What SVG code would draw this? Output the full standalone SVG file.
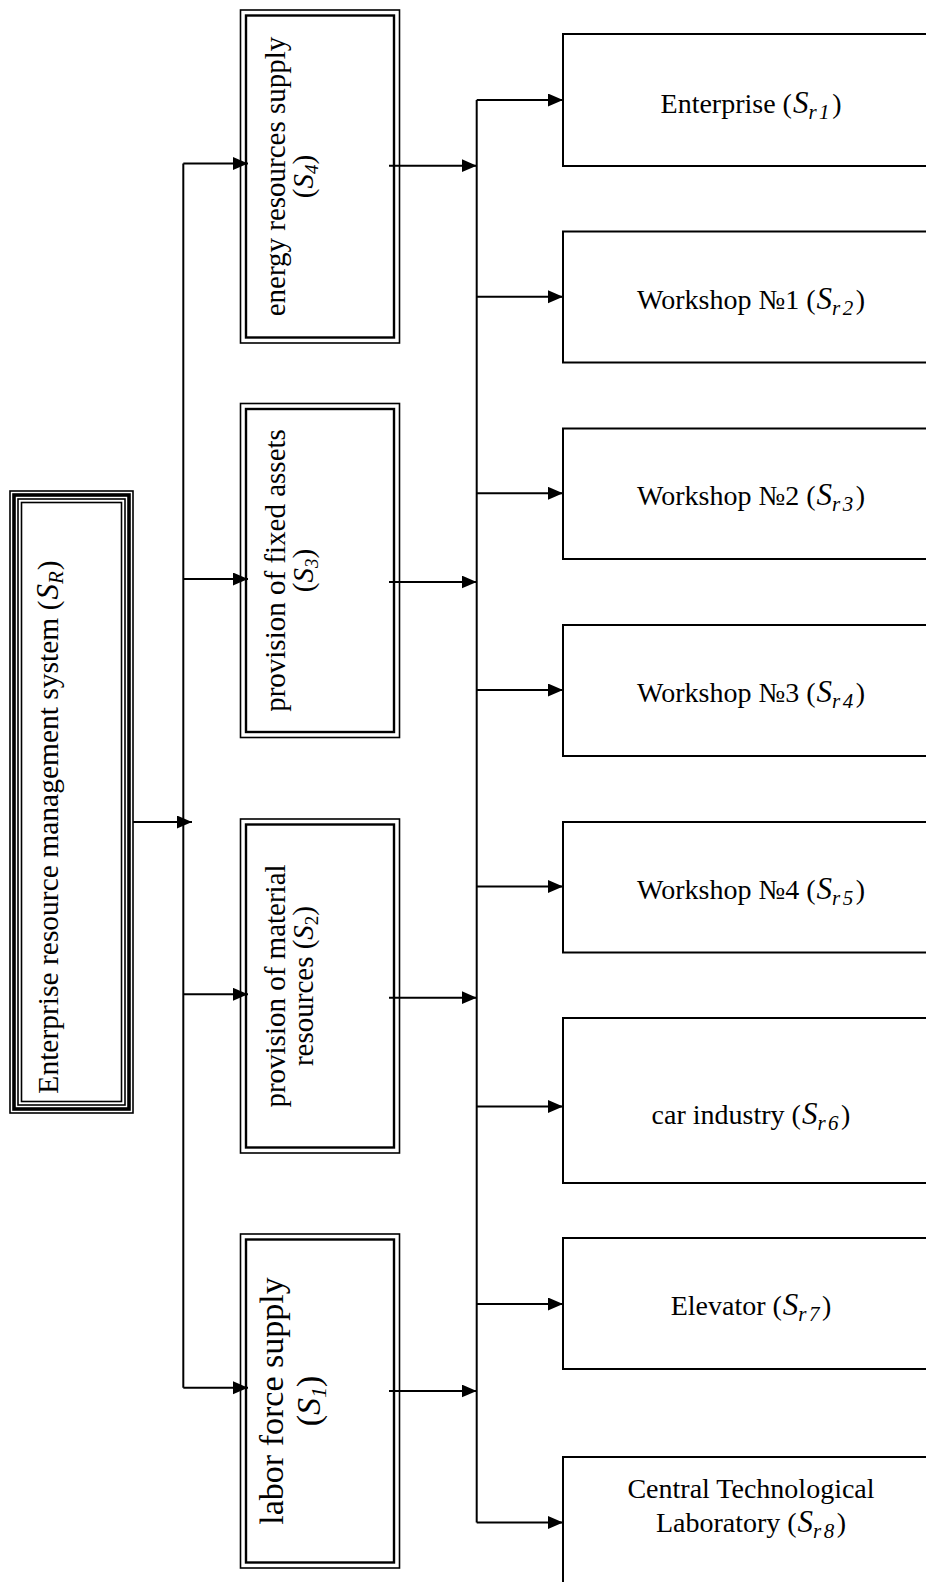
<svg xmlns="http://www.w3.org/2000/svg" width="926" height="1582" viewBox="0 0 926 1582">
<defs>
<marker id="arr" markerUnits="userSpaceOnUse" markerWidth="16" markerHeight="14" refX="15" refY="6.5" orient="auto">
<path d="M0,0 L15,6.5 L0,13 z" fill="#000"/>
</marker>
<style>
.t{font-family:"Liberation Serif","Times New Roman",serif;fill:#000;}
.i{font-style:italic;}
.S{font-style:italic;font-size:31px;}
.sub{font-style:italic;font-size:21px;letter-spacing:2.5px;}
.box{fill:#fff;stroke:#000;stroke-width:2;}
.thin{fill:none;stroke:#000;stroke-width:1.6;}
.mid{fill:none;stroke:#000;stroke-width:2.4;}
.thick{fill:none;stroke:#000;stroke-width:3.6;}
.ln{fill:none;stroke:#000;stroke-width:2;}
.a{fill:none;stroke:#000;stroke-width:2;marker-end:url(#arr);}
</style>
</defs>
<rect width="926" height="1582" fill="#fff"/>

<g id="main">
<rect class="thin" x="10" y="491" width="123" height="622"/>
<rect class="thick" x="14" y="495" width="115" height="614"/>
<rect class="thin" x="18" y="499" width="107" height="606"/>
<rect class="thin" x="21.5" y="502.5" width="100" height="599"/>
<text class="t" font-size="29.5" text-anchor="middle" transform="translate(58,827) rotate(-90)">Enterprise resource management system (<tspan dx="1" class="i" font-size="31">S</tspan><tspan class="i" font-size="21" dy="5">R</tspan><tspan dx="1" dy="-5">)</tspan></text>
</g>

<g id="s4">
<rect class="thin" x="240.5" y="10" width="159" height="333"/>
<rect class="mid" x="246" y="15.5" width="148" height="322"/>
<text class="t" font-size="29" text-anchor="middle" transform="translate(285,176.5) rotate(-90)"><tspan x="0" y="0">energy resources supply</tspan><tspan x="0" y="28">(<tspan class="i">S</tspan><tspan class="i" font-size="19" dy="5">4</tspan><tspan dy="-5">)</tspan></tspan></text>
</g>

<g id="s3">
<rect class="thin" x="240.5" y="403.5" width="159" height="334"/>
<rect class="mid" x="246" y="409" width="148" height="323"/>
<text class="t" font-size="29" text-anchor="middle" transform="translate(285,570.5) rotate(-90)"><tspan x="0" y="0">provision of fixed assets</tspan><tspan x="0" y="28">(<tspan class="i">S</tspan><tspan class="i" font-size="19" dy="5">3</tspan><tspan dy="-5">)</tspan></tspan></text>
</g>

<g id="s2">
<rect class="thin" x="240.5" y="819" width="159" height="334"/>
<rect class="mid" x="246" y="824.5" width="148" height="323"/>
<text class="t" font-size="29" text-anchor="middle" transform="translate(285,986) rotate(-90)"><tspan x="0" y="0">provision of material</tspan><tspan x="0" y="28">resources (<tspan class="i">S</tspan><tspan font-size="19" dy="5">2</tspan><tspan dy="-5">)</tspan></tspan></text>
</g>

<g id="s1">
<rect class="thin" x="240.5" y="1234" width="159" height="334"/>
<rect class="mid" x="246" y="1239.5" width="148" height="323"/>
<text class="t" font-size="34" text-anchor="middle" transform="translate(283,1401) rotate(-90)"><tspan x="0" y="0">labor force supply</tspan><tspan x="0" y="37">(<tspan class="i">S</tspan><tspan class="i" font-size="22" dy="6">1</tspan><tspan dy="-6">)</tspan></tspan></text>
</g>

<g id="sr1">
<rect class="box" x="563" y="34" width="380" height="132"/>
<text class="t" font-size="28" text-anchor="middle" x="751" y="113">Enterprise (<tspan dx="1" class="S">S</tspan><tspan class="sub" dy="6">r1</tspan><tspan dy="-6">)</tspan></text>
</g>
<g id="sr2">
<rect class="box" x="563" y="231.5" width="380" height="131"/>
<text class="t" font-size="28" text-anchor="middle" x="751" y="309">Workshop №1 (<tspan dx="1" class="S">S</tspan><tspan class="sub" dy="6">r2</tspan><tspan dy="-6">)</tspan></text>
</g>
<g id="sr3">
<rect class="box" x="563" y="428.5" width="380" height="130.5"/>
<text class="t" font-size="28" text-anchor="middle" x="751" y="505">Workshop №2 (<tspan dx="1" class="S">S</tspan><tspan class="sub" dy="6">r3</tspan><tspan dy="-6">)</tspan></text>
</g>
<g id="sr4">
<rect class="box" x="563" y="625" width="380" height="131"/>
<text class="t" font-size="28" text-anchor="middle" x="751" y="702">Workshop №3 (<tspan dx="1" class="S">S</tspan><tspan class="sub" dy="6">r4</tspan><tspan dy="-6">)</tspan></text>
</g>
<g id="sr5">
<rect class="box" x="563" y="822" width="380" height="130.5"/>
<text class="t" font-size="28" text-anchor="middle" x="751" y="899">Workshop №4 (<tspan dx="1" class="S">S</tspan><tspan class="sub" dy="6">r5</tspan><tspan dy="-6">)</tspan></text>
</g>
<g id="sr6">
<rect class="box" x="563" y="1018" width="380" height="165"/>
<text class="t" font-size="28" text-anchor="middle" x="751" y="1124">car industry (<tspan dx="1" class="S">S</tspan><tspan class="sub" dy="6">r6</tspan><tspan dy="-6">)</tspan></text>
</g>
<g id="sr7">
<rect class="box" x="563" y="1238" width="380" height="131"/>
<text class="t" font-size="28" text-anchor="middle" x="751" y="1315">Elevator (<tspan dx="1" class="S">S</tspan><tspan class="sub" dy="6">r7</tspan><tspan dy="-6">)</tspan></text>
</g>
<g id="sr8">
<rect class="box" x="563" y="1457" width="380" height="140"/>
<text class="t" font-size="28" text-anchor="middle" x="751" y="1498">Central Technological</text>
<text class="t" font-size="28" text-anchor="middle" x="751" y="1532">Laboratory (<tspan dx="1" class="S">S</tspan><tspan class="sub" dy="6">r8</tspan><tspan dy="-6">)</tspan></text>
</g>

<g id="connectors">
<path class="a" d="M133,822 H192"/>
<path class="ln" d="M183.3,163.5 V1387.7"/>
<path class="a" d="M183.3,163.5 H248"/>
<path class="a" d="M183.3,579 H248"/>
<path class="a" d="M183.3,994.3 H248"/>
<path class="a" d="M183.3,1387.7 H248"/>
<path class="a" d="M389,165.7 H476.7"/>
<path class="a" d="M389,582 H476.7"/>
<path class="a" d="M389,997.7 H476.7"/>
<path class="a" d="M389,1391 H476.7"/>
<path class="ln" d="M476.7,100 V1522.5"/>
<path class="a" d="M476.7,100 H563"/>
<path class="a" d="M476.7,296.7 H563"/>
<path class="a" d="M476.7,493.3 H563"/>
<path class="a" d="M476.7,690 H563"/>
<path class="a" d="M476.7,886.6 H563"/>
<path class="a" d="M476.7,1106.5 H563"/>
<path class="a" d="M476.7,1304 H563"/>
<path class="a" d="M476.7,1522.5 H563"/>
</g>
</svg>
